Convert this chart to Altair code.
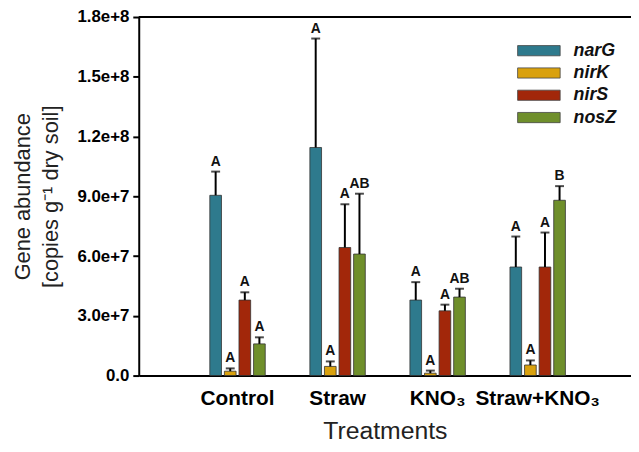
import altair as alt
import pandas as pd

treatments = ["Control", "Straw", "KNO₃", "Straw+KNO₃"]
genes = ["narG", "nirK", "nirS", "nosZ"]
colors = ["#2E7A8D", "#D9A10E", "#A2270A", "#6F8F2B"]

values = {
    "narG": [9.05e7, 1.145e8, 3.79e7, 5.45e7],
    "nirK": [2.2e6, 4.6e6, 1.2e6, 5.3e6],
    "nirS": [3.79e7, 6.43e7, 3.25e7, 5.45e7],
    "nosZ": [1.59e7, 6.10e7, 3.94e7, 8.80e7],
}
errors = {
    "narG": [1.19e7, 5.47e7, 9.0e6, 1.53e7],
    "nirK": [1.4e6, 2.5e6, 1.3e6, 2.3e6],
    "nirS": [3.9e6, 2.17e7, 3.1e6, 1.73e7],
    "nosZ": [3.3e6, 3.03e7, 4.2e6, 7.1e6],
}
letters = {
    "narG": ["A", "A", "A", "A"],
    "nirK": ["A", "A", "A", "A"],
    "nirS": ["A", "A", "A", "A"],
    "nosZ": ["A", "AB", "AB", "B"],
}
y_ticks = [0, 3e7, 6e7, 9e7, 1.2e8, 1.5e8, 1.8e8]

rows = []
for g in genes:
    for i, t in enumerate(treatments):
        rows.append({
            "treatment": t, "gene": g, "value": values[g][i],
            "upper": values[g][i] + errors[g][i], "letter": letters[g][i],
        })
df = pd.DataFrame(rows)

FONT = "Liberation Sans"

x_enc = alt.X("treatment:N", sort=treatments,
              scale=alt.Scale(paddingInner=0.446, paddingOuter=0.683, align=0.52),
              axis=alt.Axis(title="Treatments", labelAngle=0, ticks=False,
                            labelFontSize=21, labelFontWeight="bold", labelFont=FONT,
                            labelColor="black", labelPadding=12,
                            titleFontSize=25, titleFontWeight="normal", titleFont=FONT,
                            titleColor="#222", titlePadding=11,
                            domainColor="black", domainWidth=2))
xoff = alt.XOffset("gene:N", sort=genes, scale=alt.Scale(paddingInner=0.2, paddingOuter=0))
y_scale = alt.Scale(domain=[0, 1.8e8], nice=False)

base = alt.Chart(df)

bars = base.mark_bar(stroke="#333", strokeWidth=0.8).encode(
    x=x_enc,
    xOffset=xoff,
    y=alt.Y("value:Q", scale=y_scale,
            axis=alt.Axis(title=["Gene abundance", "[copies g⁻¹ dry soil]"],
                          values=y_ticks, grid=False,
                          labelExpr="datum.value == 0 ? '0.0' : format(datum.value, '.1e')",
                          labelFontSize=17, labelFontWeight="bold", labelFont=FONT,
                          labelColor="black", labelPadding=4,
                          tickSize=6, tickWidth=2, tickColor="black",
                          domainColor="black", domainWidth=2,
                          titleFontSize=22, titleFontWeight="normal", titleFont=FONT,
                          titleColor="#222", titlePadding=15, titleLineHeight=28)),
    color=alt.Color("gene:N", sort=genes,
                    scale=alt.Scale(domain=genes, range=colors),
                    legend=alt.Legend(title=None, orient="none", legendX=395, legendY=25,
                                      symbolType="M-3,-0.72H3V0.72H-3Z", symbolSize=205,
                                      symbolStrokeColor="#444", symbolStrokeWidth=0.8,
                                      labelFontSize=18, labelFontStyle="italic",
                                      labelFontWeight="bold", labelFont=FONT,
                                      labelColor="#111", labelOffset=26, rowPadding=4.5)),
)

err_rule = base.mark_rule(color="black", strokeWidth=2).encode(
    x=alt.X("treatment:N", sort=treatments), xOffset=xoff,
    y=alt.Y("value:Q", scale=y_scale), y2="upper:Q",
)
caps = base.mark_tick(color="black", thickness=2, size=9).encode(
    x=alt.X("treatment:N", sort=treatments), xOffset=xoff,
    y=alt.Y("upper:Q", scale=y_scale),
)
labels = base.mark_text(font=FONT, fontSize=14, fontWeight="bold", color="#111",
                        baseline="bottom", dy=-3).encode(
    x=alt.X("treatment:N", sort=treatments), xOffset=xoff,
    y=alt.Y("upper:Q", scale=y_scale),
    text="letter:N",
)
top_df = pd.DataFrame({"top": [1.8e8]})
top_line = alt.Chart(top_df).mark_rule(color="black", strokeWidth=2).encode(
    y=alt.Y("top:Q", scale=y_scale)
)

chart = alt.layer(bars, err_rule, caps, labels, top_line).properties(
    width=497, height=362,
    autosize=alt.AutoSizeParams(type="none"),
    padding={"left": 132, "top": 7, "right": 0, "bottom": 69},
).configure_view(stroke=None)

chart.save("out.html", embed_options={"renderer": "svg", "actions": False})
